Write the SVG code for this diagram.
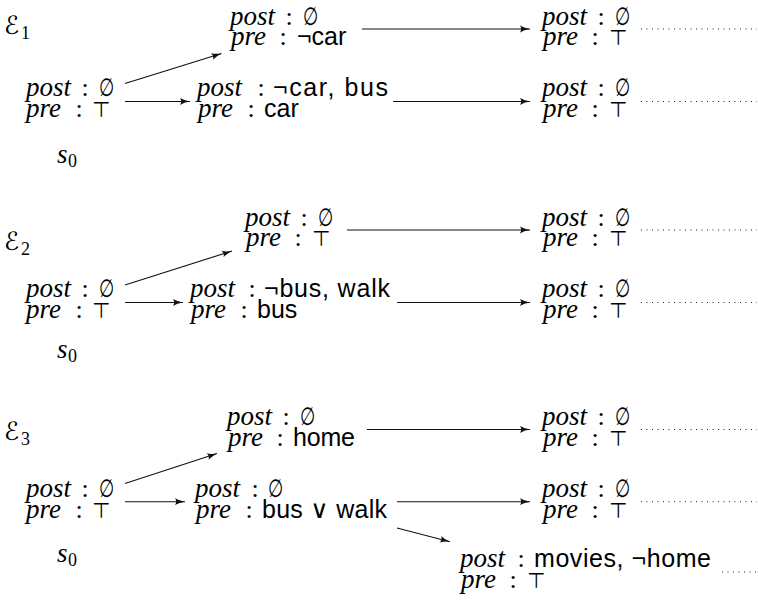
<svg xmlns="http://www.w3.org/2000/svg" width="758" height="605" viewBox="0 0 758 605">
<defs>
<style>
.it{font-family:"Liberation Serif",serif;font-style:italic;font-size:27px;fill:#000}
.co{font-family:"Liberation Serif",serif;font-size:26px;fill:#000;text-anchor:middle}
.sf{font-family:"Liberation Sans","DejaVu Sans",sans-serif;font-size:25px;fill:#000}
.es{font-family:"DejaVu Sans",sans-serif;font-size:25px;fill:#000}
.top{font-family:"DejaVu Sans",sans-serif;font-size:21px;fill:#000}
.cal{font-family:"DejaVu Serif","DejaVu Sans",serif;font-style:italic;font-size:25px;fill:#000}
.sub{font-family:"Liberation Serif",serif;font-size:18px;fill:#000}
.ar{stroke:#111;stroke-width:1.1;fill:none;marker-end:url(#tip)}
.dot{stroke:#222;stroke-width:1;fill:none;stroke-dasharray:1 4.5}
</style>
<marker id="tip" viewBox="0 0 10 8" markerWidth="10" markerHeight="8" refX="10" refY="4" orient="auto" markerUnits="userSpaceOnUse">
<path d="M0,0.6 Q4,3 10,4 Q4,5 0,7.4 Q2.4,4 0,0.6 Z" fill="#111"/>
</marker>
</defs>

<!-- Section 1 -->
<g id="label-e1"><text class="cal" x="4" y="34">ℰ</text><text class="sub" x="21" y="39">1</text></g>
<g id="s0-1">
<text class="it" x="26" y="96">post</text><text class="co" x="85" y="96">:</text><text class="es" transform="translate(99,96) scale(0.7,1)">∅</text>
<text class="it" x="26" y="116.5">pre</text><text class="co" x="79" y="116.5">:</text><text class="top" x="92" y="116.5">⊤</text>
</g>
<g id="s0-label-1"><text class="it" x="57" y="163">s</text><text class="sub" x="68" y="167">0</text></g>
<g id="a1-1">
<text class="it" x="230" y="24.5">post</text><text class="co" x="289" y="24.5">:</text><text class="es" transform="translate(303,24.5) scale(0.7,1)">∅</text>
<text class="it" x="231" y="45">pre</text><text class="co" x="283" y="45">:</text><text class="sf" x="297" y="45">¬car</text>
</g>
<g id="a2-1">
<text class="it" x="542" y="24.5">post</text><text class="co" x="601" y="24.5">:</text><text class="es" transform="translate(615,24.5) scale(0.7,1)">∅</text>
<text class="it" x="543" y="45">pre</text><text class="co" x="595" y="45">:</text><text class="top" x="609" y="45">⊤</text>
</g>
<g id="b1-1">
<text class="it" x="197" y="96">post</text><text class="co" x="261" y="96">:</text><text class="sf" x="273" y="96" textLength="115">¬car, bus</text>
<text class="it" x="198" y="116.5">pre</text><text class="co" x="251" y="116.5">:</text><text class="sf" x="264" y="116.5">car</text>
</g>
<g id="b2-1">
<text class="it" x="542" y="96">post</text><text class="co" x="601" y="96">:</text><text class="es" transform="translate(615,96) scale(0.7,1)">∅</text>
<text class="it" x="543" y="116.5">pre</text><text class="co" x="595" y="116.5">:</text><text class="top" x="609" y="116.5">⊤</text>
</g>

<!-- Section 2 -->
<g id="label-e2"><text class="cal" x="4" y="250">ℰ</text><text class="sub" x="21" y="255">2</text></g>
<g id="s0-2">
<text class="it" x="26" y="297">post</text><text class="co" x="85" y="297">:</text><text class="es" transform="translate(99,297) scale(0.7,1)">∅</text>
<text class="it" x="26" y="317.5">pre</text><text class="co" x="79" y="317.5">:</text><text class="top" x="92" y="317.5">⊤</text>
</g>
<g id="s0-label-2"><text class="it" x="57" y="358">s</text><text class="sub" x="68" y="362">0</text></g>
<g id="a1-2">
<text class="it" x="245" y="225.5">post</text><text class="co" x="304" y="225.5">:</text><text class="es" transform="translate(318,225.5) scale(0.7,1)">∅</text>
<text class="it" x="246" y="246">pre</text><text class="co" x="298" y="246">:</text><text class="top" x="312" y="246">⊤</text>
</g>
<g id="a2-2">
<text class="it" x="542" y="225.5">post</text><text class="co" x="601" y="225.5">:</text><text class="es" transform="translate(615,225.5) scale(0.7,1)">∅</text>
<text class="it" x="543" y="246">pre</text><text class="co" x="595" y="246">:</text><text class="top" x="609" y="246">⊤</text>
</g>
<g id="b1-2">
<text class="it" x="190" y="297">post</text><text class="co" x="252" y="297">:</text><text class="sf" x="264" y="297" textLength="126">¬bus, walk</text>
<text class="it" x="191" y="317.5">pre</text><text class="co" x="244" y="317.5">:</text><text class="sf" x="257" y="317.5">bus</text>
</g>
<g id="b2-2">
<text class="it" x="542" y="297">post</text><text class="co" x="601" y="297">:</text><text class="es" transform="translate(615,297) scale(0.7,1)">∅</text>
<text class="it" x="543" y="317.5">pre</text><text class="co" x="595" y="317.5">:</text><text class="top" x="609" y="317.5">⊤</text>
</g>

<!-- Section 3 -->
<g id="label-e3"><text class="cal" x="4" y="440">ℰ</text><text class="sub" x="21" y="445">3</text></g>
<g id="s0-3">
<text class="it" x="26" y="497">post</text><text class="co" x="85" y="497">:</text><text class="es" transform="translate(99,497) scale(0.7,1)">∅</text>
<text class="it" x="26" y="517.5">pre</text><text class="co" x="79" y="517.5">:</text><text class="top" x="92" y="517.5">⊤</text>
</g>
<g id="s0-label-3"><text class="it" x="57" y="562">s</text><text class="sub" x="68" y="566">0</text></g>
<g id="a1-3">
<text class="it" x="227" y="425">post</text><text class="co" x="286" y="425">:</text><text class="es" transform="translate(300,425) scale(0.7,1)">∅</text>
<text class="it" x="228" y="445.5">pre</text><text class="co" x="280" y="445.5">:</text><text class="sf" x="293" y="445.5" textLength="62">home</text>
</g>
<g id="a2-3">
<text class="it" x="542" y="425">post</text><text class="co" x="601" y="425">:</text><text class="es" transform="translate(615,425) scale(0.7,1)">∅</text>
<text class="it" x="543" y="445.5">pre</text><text class="co" x="595" y="445.5">:</text><text class="top" x="609" y="445.5">⊤</text>
</g>
<g id="b1-3">
<text class="it" x="195" y="497">post</text><text class="co" x="255" y="497">:</text><text class="es" transform="translate(268,497) scale(0.7,1)">∅</text>
<text class="it" x="196" y="517.5">pre</text><text class="co" x="249" y="517.5">:</text><text class="sf" x="262" y="517.5" textLength="125">bus ∨ walk</text>
</g>
<g id="b2-3">
<text class="it" x="542" y="497">post</text><text class="co" x="601" y="497">:</text><text class="es" transform="translate(615,497) scale(0.7,1)">∅</text>
<text class="it" x="543" y="517.5">pre</text><text class="co" x="595" y="517.5">:</text><text class="top" x="609" y="517.5">⊤</text>
</g>
<g id="c-3">
<text class="it" x="460" y="567">post</text><text class="co" x="521" y="567">:</text><text class="sf" x="534" y="567" textLength="177">movies, ¬home</text>
<text class="it" x="461" y="588">pre</text><text class="co" x="513" y="588">:</text><text class="top" x="527" y="588">⊤</text>
</g>

<g id="connectors">
<line class="ar" x1="125" y1="83.5" x2="221.5" y2="53.5"/>
<line class="ar" x1="125" y1="101.5" x2="190" y2="101.5"/>
<line class="ar" x1="362" y1="29" x2="530" y2="29"/>
<line class="ar" x1="393" y1="101.5" x2="530" y2="101.5"/>
<line class="dot" x1="641" y1="29" x2="757" y2="29"/>
<line class="dot" x1="641" y1="101.5" x2="757" y2="101.5"/>

<line class="ar" x1="125" y1="285" x2="232" y2="251"/>
<line class="ar" x1="125" y1="302.5" x2="183" y2="302.5"/>
<line class="ar" x1="347" y1="230" x2="530" y2="230"/>
<line class="ar" x1="397" y1="302.5" x2="530" y2="302.5"/>
<line class="dot" x1="641" y1="230" x2="757" y2="230"/>
<line class="dot" x1="641" y1="302.5" x2="757" y2="302.5"/>

<line class="ar" x1="125" y1="483.5" x2="217" y2="453.5"/>
<line class="ar" x1="125" y1="501.7" x2="185" y2="501.7"/>
<line class="ar" x1="367" y1="429.5" x2="530" y2="429.5"/>
<line class="ar" x1="397" y1="501.7" x2="530" y2="501.7"/>
<line class="ar" x1="397" y1="528" x2="450" y2="541.7"/>
<line class="dot" x1="641" y1="429.5" x2="757" y2="429.5"/>
<line class="dot" x1="641" y1="501.7" x2="757" y2="501.7"/>
<line class="dot" x1="722" y1="572" x2="757" y2="572"/>
</g>
</svg>
